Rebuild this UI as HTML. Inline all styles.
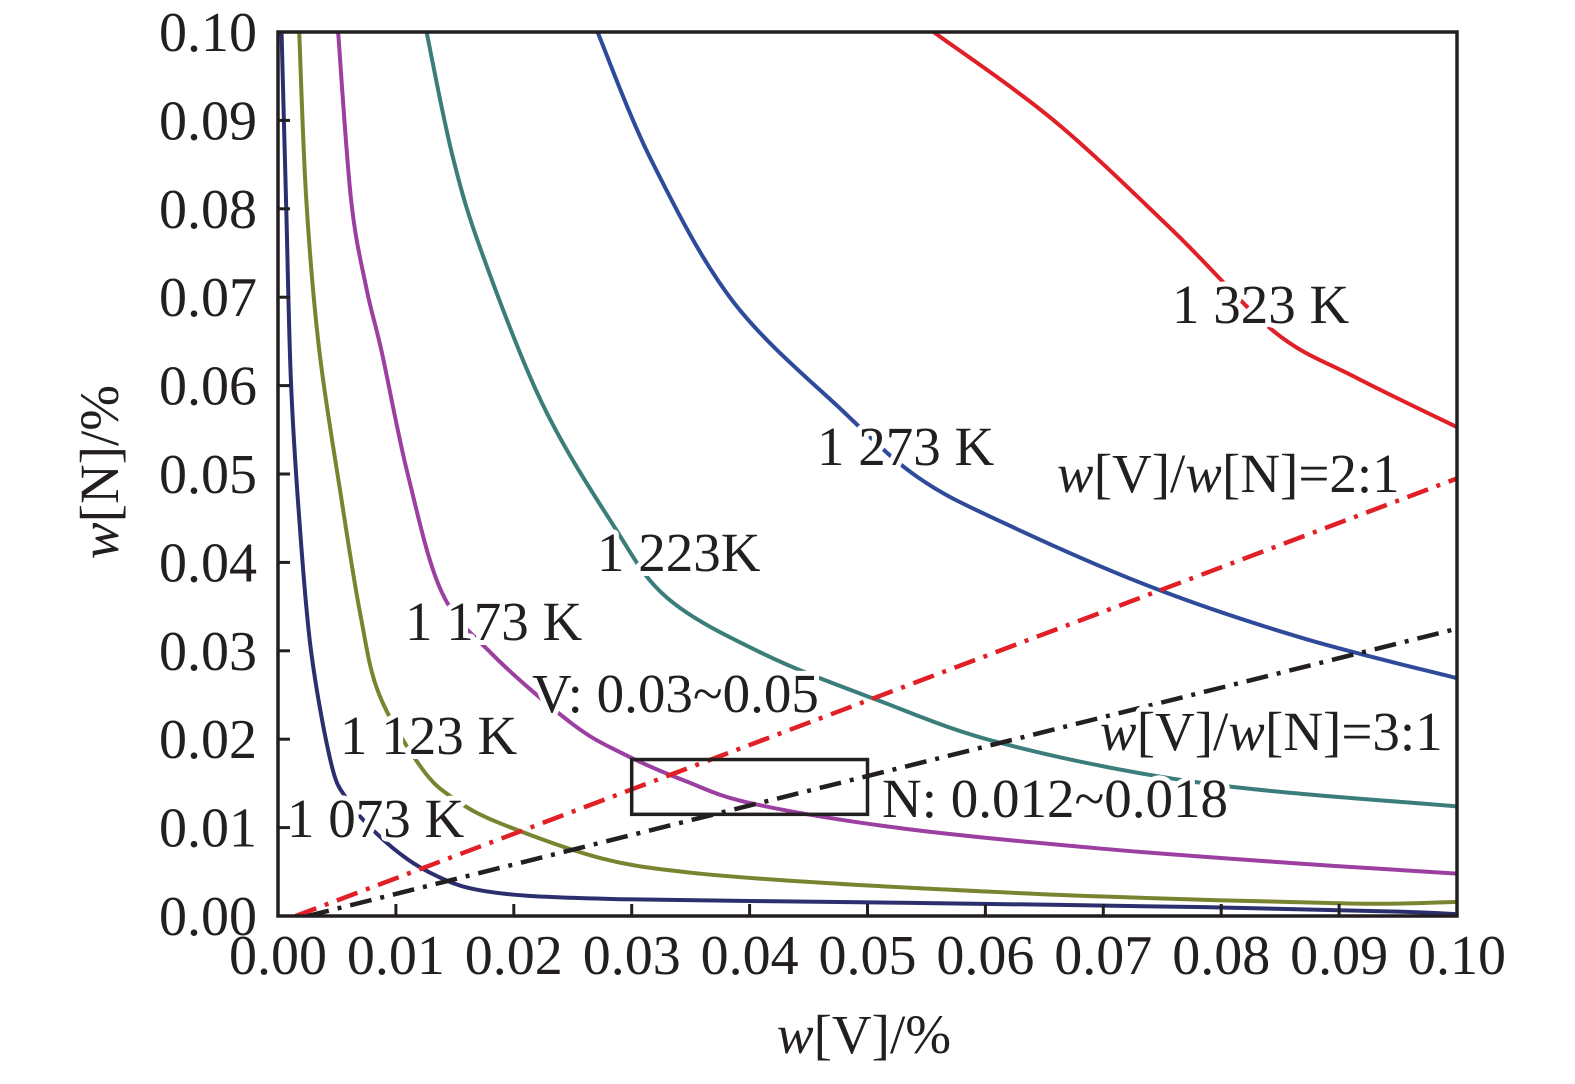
<!DOCTYPE html>
<html><head><meta charset="utf-8"><style>
html,body{margin:0;padding:0;background:#fff;overflow:hidden;width:1575px;height:1084px}
svg{display:block}
svg text{font-family:"Liberation Serif",serif;fill:#231f20}
.lbl{font-size:55px;stroke:#fff;stroke-width:10px;paint-order:stroke;stroke-linejoin:round}
</style></head><body>
<svg id="c" width="1575" height="1084" viewBox="0 0 1575 1084" style="position:absolute;left:0;top:0"></svg>
<script>
const xTicks=[0,0.01,0.02,0.03,0.04,0.05,0.06,0.07,0.08,0.09,0.10];
const yTicks=[0,0.01,0.02,0.03,0.04,0.05,0.06,0.07,0.08,0.09,0.10];
const names=["1073","1123","1173","1223","1273","1323"];
const colors=["#2b2f6e","#7a8430","#9b3fa0","#3a7d7a","#2e4a9a","#e11f26"];
const c1073x=[0.0003,0.0007,0.0011,0.0018,0.0028,0.0045,0.0058,0.008,0.0109,0.0135,0.0164,0.021,0.029,0.04,0.053,0.0786,0.095,0.1];
const c1073y=[0.1,0.08,0.0604,0.045,0.03,0.0173,0.0133,0.0098,0.0065,0.0045,0.0031,0.0023,0.0019,0.0017,0.0015,0.001,0.0005,0.0002];
const c1123x=[0.0018,0.0024,0.0035,0.0054,0.007,0.0086,0.0122,0.015,0.019,0.0275,0.035,0.0445,0.055,0.07,0.0913,0.1];
const c1123y=[0.1,0.081,0.064,0.047,0.034,0.025,0.0167,0.0132,0.0104,0.0065,0.0049,0.0039,0.0031,0.0022,0.0014,0.0016];
const c1173x=[0.0051,0.0062,0.0075,0.0088,0.011,0.0139,0.0181,0.0249,0.0292,0.0345,0.0403,0.053,0.07,0.087,0.1];
const c1173y=[0.1,0.081,0.071,0.0638,0.05,0.0366,0.0297,0.0218,0.0184,0.0153,0.0127,0.0099,0.0076,0.0059,0.0048];
const c1223x=[0.0126,0.0148,0.0173,0.0224,0.0283,0.033,0.0411,0.0505,0.0615,0.0786,0.1];
const c1223y=[0.1,0.086,0.075,0.058,0.0445,0.036,0.0297,0.0246,0.0195,0.015,0.0124];
const c1273x=[0.0271,0.0317,0.0386,0.048,0.0543,0.0615,0.0743,0.087,0.1];
const c1273y=[0.1,0.0854,0.0695,0.057,0.0496,0.0445,0.0371,0.0314,0.0269];
const c1323x=[0.0556,0.0658,0.076,0.0845,0.0913,0.1];
const c1323y=[0.1,0.09,0.0774,0.0661,0.061,0.0553];
const ratioX=[[0.0015,0.1],[0.0025,0.1]];
const ratioY=[[0,0.0495],[0,0.0325]];
const boxX=[0.03,0.05], boxY=[0.0115,0.0177];

const X0=278,X1=1457,Y0=916,Y1=32;
const sx=v=>X0+(X1-X0)*v/0.1, sy=v=>Y0-(Y0-Y1)*v/0.1;
const svg=document.getElementById('c');const NS="http://www.w3.org/2000/svg";
function mk(t,a,p){const e=document.createElementNS(NS,t);for(const k in a)e.setAttribute(k,a[k]);(p||svg).appendChild(e);return e;}
function smooth(xs,ys){const P=xs.map((x,i)=>[sx(x),sy(ys[i])]);let d="M"+P[0];
for(let i=0;i<P.length-1;i++){const p0=P[i-1]||P[i],p1=P[i],p2=P[i+1],p3=P[i+2]||p2;
d+=" C"+(p1[0]+(p2[0]-p0[0])/6)+","+(p1[1]+(p2[1]-p0[1])/6)+" "+(p2[0]-(p3[0]-p1[0])/6)+","+(p2[1]-(p3[1]-p1[1])/6)+" "+p2;}return d;}
const clip=mk('clipPath',{id:'pc'});mk('rect',{x:X0,y:Y1,width:X1-X0,height:Y0-Y1},clip);
const g=mk('g',{'clip-path':'url(#pc)'});
const data=[[c1073x,c1073y],[c1123x,c1123y],[c1173x,c1173y],[c1223x,c1223y],[c1273x,c1273y],[c1323x,c1323y]];
data.forEach((d,i)=>{const p=mk('path',{d:smooth(d[0],d[1]),fill:'none',stroke:colors[i],'stroke-width':4},g);

});
const rc=["#e11f26","#231f20"],rn=["ratio-2-1-line","ratio-3-1-line"];
ratioX.forEach((rx,i)=>{const l=mk('line',{x1:sx(rx[0]),y1:sy(ratioY[i][0]),x2:sx(rx[1]),y2:sy(ratioY[i][1]),stroke:rc[i],'stroke-width':4.5,'stroke-dasharray':'22 9 4 9'},g);

});
const b=mk('rect',{x:sx(boxX[0]),y:sy(boxY[1]),width:sx(boxX[1])-sx(boxX[0]),height:sy(boxY[0])-sy(boxY[1]),fill:'none',stroke:'#231f20','stroke-width':3.5});


const ax=mk('rect',{x:X0,y:Y1,width:X1-X0,height:Y0-Y1,fill:'none',stroke:'#231f20','stroke-width':3.5});


xTicks.forEach(v=>{mk('line',{x1:sx(v),x2:sx(v),y1:Y0,y2:Y0-12,stroke:'#231f20','stroke-width':3});
const t=mk('text',{x:sx(v),y:974,'text-anchor':'middle','font-size':56});t.textContent=v.toFixed(2);

});
yTicks.forEach(v=>{mk('line',{x1:X0,x2:X0+12,y1:sy(v),y2:sy(v),stroke:'#231f20','stroke-width':3});
const t=mk('text',{x:257,y:sy(v)+19,'text-anchor':'end','font-size':56});t.textContent=v.toFixed(2);

});
</script>
<svg width="1575" height="1084" style="position:absolute;left:0;top:0">
<text class="lbl" x="1172" y="323">1 323 K</text>
<text class="lbl" x="817" y="465">1 273 K</text>
<text class="lbl" x="597" y="571">1 223K</text>
<text class="lbl" x="405" y="640">1 173 K</text>
<text class="lbl" x="532" y="712">V: 0.03~0.05</text>
<text class="lbl" x="340" y="754">1 123 K</text>
<text class="lbl" x="287" y="837">1 073 K</text>
<text class="lbl" x="882" y="817">N: 0.012~0.018</text>
<text class="lbl" x="1057" y="492"><tspan font-style="italic">w</tspan>[V]/<tspan font-style="italic">w</tspan>[N]=2:1</text>
<text class="lbl" x="1100" y="750"><tspan font-style="italic">w</tspan>[V]/<tspan font-style="italic">w</tspan>[N]=3:1</text>
<text x="864" y="1053" text-anchor="middle" font-size="55"><tspan font-style="italic">w</tspan>[V]/%</text>
<text transform="translate(118,472) rotate(-90)" text-anchor="middle" font-size="55"><tspan font-style="italic">w</tspan>[N]/%</text>
</svg>
</body></html>
